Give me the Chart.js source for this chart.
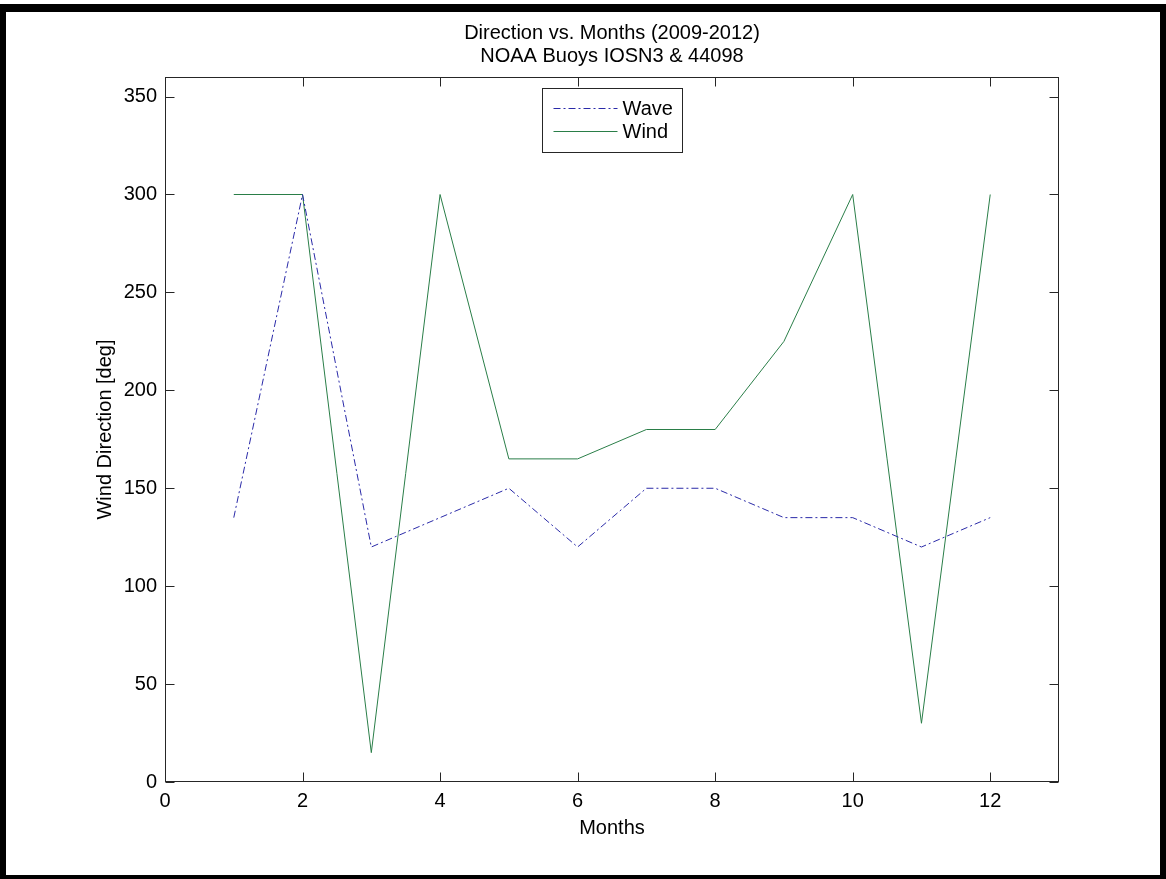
<!DOCTYPE html>
<html>
<head>
<meta charset="utf-8">
<script src="https://cdn.jsdelivr.net/npm/chart.js@4.4.1/dist/chart.umd.min.js"></script>
<style>
  html, body { margin: 0; padding: 0; background: #fff; overflow: hidden; }
  #wrap { position: relative; width: 1166px; height: 879px; }
  #c { position: absolute; left: 0; top: 0; }
  #frame {
    position: absolute; left: 0; top: 4px; width: 1166px; height: 877px;
    box-sizing: border-box; border: solid #000; border-width: 8px 6px 6px 6px;
    pointer-events: none;
  }
</style>
</head>
<body>
<div id="wrap">
  <canvas id="c" width="1166" height="879"></canvas>
  <div id="frame"></div>
</div>
<script>
// Monthly mean directions, 2009-2012
const months = [1, 2, 3, 4, 5, 6, 7, 8, 9, 10, 11, 12];
const waveDirection = [135, 300, 120, 135, 150, 120, 150, 150, 135, 135, 120, 135];
const windDirection = [300, 300, 15, 300, 165, 165, 180, 180, 225, 300, 30, 300];

const xTickValues = [0, 2, 4, 6, 8, 10, 12];
const yTickValues = [0, 50, 100, 150, 200, 250, 300, 350];

const chartTitle = ['Direction vs. Months (2009-2012)', 'NOAA Buoys IOSN3 & 44098'];
const xAxisTitle = 'Months';
const yAxisTitle = 'Wind Direction [deg]';

const FONT = "'Liberation Sans', Arial, sans-serif";
const AXIS_COLOR = '#262626';

const toPoints = (ys) => months.map((m, i) => ({ x: m, y: ys[i] }));

// Box around the axes, inward tick marks on all four sides, and an inset legend
const axesBoxPlugin = {
  id: 'axesBox',
  afterDatasetsDraw(chart) {
    const { ctx, chartArea: a, scales: { x, y } } = chart;
    const L = Math.round(a.left) + 0.5, R = Math.round(a.right) - 0.5;
    const T = Math.round(a.top) + 0.5, B = Math.round(a.bottom) - 0.5;
    ctx.save();
    ctx.strokeStyle = AXIS_COLOR;
    ctx.lineWidth = 1;
    ctx.setLineDash([]);
    ctx.strokeRect(L, T, R - L, B - T);

    const tl = 9;
    ctx.beginPath();
    x.ticks.forEach(t => {
      const px = Math.round(x.getPixelForValue(t.value)) + 0.5;
      ctx.moveTo(px, B); ctx.lineTo(px, B - tl);
      ctx.moveTo(px, T); ctx.lineTo(px, T + tl);
    });
    y.ticks.forEach(t => {
      const py = Math.round(y.getPixelForValue(t.value)) + 0.5;
      ctx.moveTo(L, py); ctx.lineTo(L + tl, py);
      ctx.moveTo(R, py); ctx.lineTo(R - tl, py);
    });
    ctx.stroke();

    // legend
    const w = 140, h = 64;
    const lx = Math.round((a.left + a.right) / 2 - w / 2) + 0.5;
    const ly = Math.round(a.top + 11) + 0.5;
    ctx.fillStyle = '#fff';
    ctx.fillRect(lx, ly, w, h);
    ctx.strokeStyle = AXIS_COLOR;
    ctx.strokeRect(lx, ly, w, h);
    ctx.font = '20px ' + FONT;
    ctx.textBaseline = 'middle';
    ctx.textAlign = 'left';
    chart.data.datasets.forEach((ds, i) => {
      const cy = Math.round(ly + 19 + i * 23) + 0.5;
      ctx.strokeStyle = ds.borderColor;
      ctx.lineWidth = ds.borderWidth;
      ctx.setLineDash(ds.borderDash || []);
      ctx.beginPath();
      ctx.moveTo(lx + 11, cy);
      ctx.lineTo(lx + 75, cy);
      ctx.stroke();
      ctx.setLineDash([]);
      ctx.fillStyle = '#000';
      ctx.fillText(ds.label, lx + 80, cy + 1);
    });
    ctx.restore();
  }
};

const tickFont = { family: FONT, size: 20, weight: 'normal' };

new Chart(document.getElementById('c'), {
  type: 'line',
  data: {
    datasets: [
      {
        label: 'Wave',
        data: toPoints(waveDirection),
        borderColor: '#2a2aa8',
        borderWidth: 1,
        borderDash: [7, 3, 2, 3],
        pointRadius: 0,
        tension: 0,
        fill: false
      },
      {
        label: 'Wind',
        data: toPoints(windDirection),
        borderColor: '#2a7e48',
        borderWidth: 1,
        pointRadius: 0,
        tension: 0,
        fill: false
      }
    ]
  },
  options: {
    responsive: false,
    animation: false,
    events: [],
    layout: { padding: { left: 0, right: 107, top: 0, bottom: 0 } },
    plugins: {
      legend: { display: false },
      tooltip: { enabled: false },
      title: {
        display: true,
        fullSize: false,
        text: chartTitle,
        color: '#000',
        font: { family: FONT, size: 20, weight: 'normal', lineHeight: 1.15 },
        padding: { top: 22, bottom: 9 }
      }
    },
    scales: {
      x: {
        type: 'linear',
        min: 0,
        max: 13,
        afterBuildTicks: s => { s.ticks = xTickValues.map(v => ({ value: v })); },
        afterFit: s => { s.height = 97; },
        grid: { display: false, drawTicks: false },
        border: { display: false },
        ticks: { color: '#000', font: tickFont, padding: 7, maxRotation: 0, autoSkip: false },
        title: {
          display: true, text: xAxisTitle, color: '#000', font: tickFont,
          padding: { top: 0, bottom: 39 }
        }
      },
      y: {
        min: 0,
        max: 360,
        afterBuildTicks: s => { s.ticks = yTickValues.map(v => ({ value: v })); },
        afterFit: s => { s.width = 165; },
        grid: { display: false, drawTicks: false },
        border: { display: false },
        ticks: { color: '#000', font: tickFont, padding: 8, autoSkip: false },
        title: {
          display: true, text: yAxisTitle, color: '#000', font: tickFont,
          padding: { top: 93, bottom: 0 }
        }
      }
    }
  },
  plugins: [axesBoxPlugin]
});
</script>
</body>
</html>
